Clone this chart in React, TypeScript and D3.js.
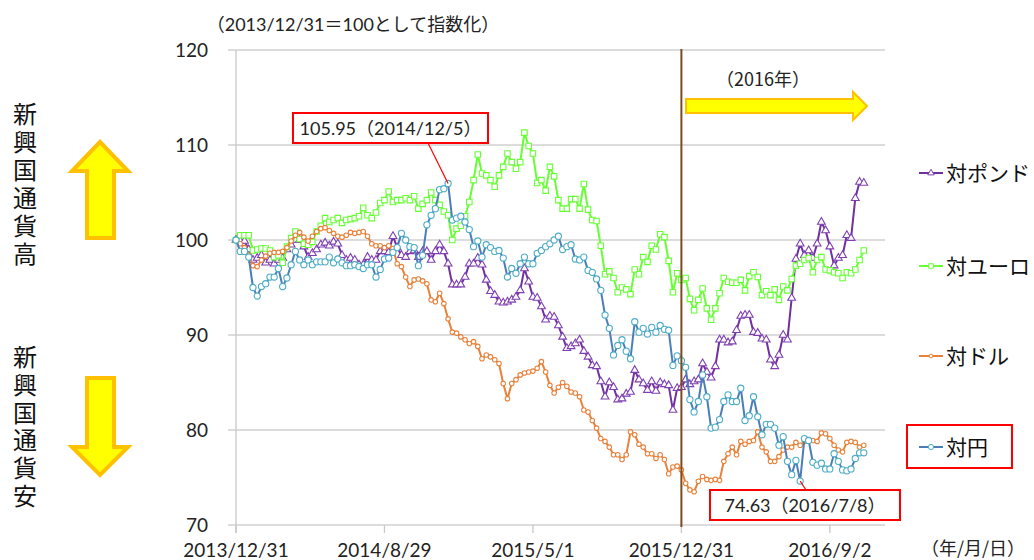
import React from "react";
import * as d3 from "d3";

// ---- data (weekly index, 2013/12/31 = 100) ----
const tickLabels = ["2013/12/31", "2014/8/29", "2015/5/1", "2015/12/31", "2016/9/2"];
const tickIndex = [0, 35, 70, 105, 140];
const yTicks = [70, 80, 90, 100, 110, 120];
const seriesNames = ["対ポンド", "対ユーロ", "対ドル", "対円"];

const poundValues = [
  100.0, 99.9, 99.9, 99.0, 97.9, 98.1, 98.4, 97.6, 97.9, 97.5, 97.9, 98.1, 99.0, 99.5, 100.0, 100.0, 99.3, 98.2, 98.6, 99.0,
  99.5, 99.7, 99.4, 99.8, 99.6, 98.4, 97.9, 98.1, 97.9, 97.4, 97.4, 98.2, 97.9, 97.9, 98.8, 98.8, 98.7, 100.4, 99.2,
  98.4, 98.2, 98.8, 98.9, 98.2, 98.8, 98.8, 97.9, 98.8, 99.5, 98.8, 97.5, 95.3, 95.3, 95.3, 96.1, 97.5, 97.5, 98.1, 97.4,
  95.8, 94.6, 94.2, 93.5, 93.4, 93.5, 93.7, 94.0, 94.7, 97.0, 95.6, 94.0, 93.9, 93.0, 91.6, 92.0, 91.9, 91.0,
  89.8, 88.6, 88.8, 89.1, 89.5, 88.3, 87.7, 86.8, 86.7, 85.1, 83.5, 85.0, 84.5, 83.2, 83.3, 83.8, 84.0, 86.3, 85.3, 84.9,
  84.2, 85.1, 84.1, 85.0, 84.8, 84.7, 82.1, 84.4, 84.5, 85.3, 84.8, 85.1, 85.3, 87.0, 86.1, 85.5, 86.7, 89.5,
  89.5, 89.2, 89.3, 90.5, 92.0, 92.1, 92.1, 90.3, 90.2, 89.6, 89.5, 87.4, 86.7, 87.9, 90.0, 89.5, 93.9, 98.0, 99.6, 98.4,
  98.9, 98.1, 99.6, 101.9, 101.0, 99.3, 97.3, 98.1, 98.4, 100.5, 100.2, 104.4, 106.1, 106.0,
];

const euroValues = [
  100.0, 100.5, 100.5, 100.5, 98.9, 99.0, 99.1, 99.1, 98.9, 98.2, 98.4, 97.6, 99.3, 100.2, 100.9, 100.1, 99.6, 99.5, 99.8, 100.9,
  101.5, 102.3, 101.9, 102.1, 102.3, 101.8, 102.1, 102.2, 102.3, 102.5, 103.4, 102.6, 102.3, 102.9, 103.9, 104.2, 105.1, 104.0, 104.2,
  104.2, 104.4, 104.2, 104.6, 103.3, 103.8, 104.2, 105.0, 104.2, 103.7, 103.0, 102.6, 100.0, 101.2, 101.5, 102.5, 104.0, 106.3, 109.0, 107.0,
  106.8, 106.3, 105.6, 106.8, 107.7, 109.1, 108.2, 107.5, 108.2, 111.3, 109.9, 109.1, 106.0, 106.3, 105.2, 107.7, 106.7, 104.2,
  103.3, 103.3, 104.3, 104.3, 103.3, 105.9, 103.2, 102.1, 102.0, 99.4, 96.4, 96.7, 96.0, 94.5, 95.0, 94.8, 94.3, 96.9, 96.4, 98.2,
  97.7, 99.4, 99.0, 100.6, 100.3, 97.8, 94.5, 96.5, 95.8, 96.0, 93.8, 92.6, 93.7, 94.9, 92.8, 91.6, 92.8, 94.4, 96.0, 95.6,
  95.5, 95.5, 95.8, 94.7, 96.2, 96.6, 96.1, 94.2, 94.6, 94.2, 94.8, 93.7, 95.1, 94.7, 95.9, 97.3, 97.5, 97.9, 98.1, 96.6,
  97.9, 98.2, 96.9, 96.8, 96.6, 96.5, 96.0, 96.6, 96.5, 96.9, 97.9, 98.9,
];

const dollarValues = [
  100.0, 99.6, 99.2, 98.4, 97.3, 97.2, 97.9, 98.3, 98.6, 98.7, 98.7, 98.8, 99.2, 99.9, 100.5, 100.8, 100.3, 99.9, 100.4, 100.9,
  101.2, 101.3, 101.0, 100.7, 100.4, 100.3, 100.5, 100.8, 100.7, 100.8, 100.9, 100.4, 99.6, 99.4, 99.4, 99.2, 99.4, 99.1, 97.5,
  97.2, 96.1, 95.1, 95.8, 95.9, 95.7, 95.4, 93.7, 93.5, 94.4, 93.3, 91.7, 90.3, 90.2, 89.8, 89.5, 89.1, 89.3, 88.8, 87.5,
  87.9, 87.7, 87.4, 87.0, 84.9, 83.3,
  84.9, 85.3, 85.8, 86.0, 86.1, 86.2, 86.5, 87.2, 86.1, 84.7, 83.9, 84.5, 85.0, 84.6, 84.0, 83.9, 83.5, 82.1, 81.9, 81.0,
  80.2, 79.1, 78.8, 78.2, 77.4, 77.4, 76.9, 77.4, 79.8, 79.5, 78.5, 78.2, 77.5, 77.5, 77.0, 77.4, 76.9, 75.4, 76.1, 76.2,
  75.8, 74.4, 73.7, 73.5, 74.6, 75.1, 74.8, 74.7, 74.8, 74.7,
  76.7, 77.5, 78.2, 77.4, 78.8, 78.5, 78.8, 78.9, 79.8, 78.2, 77.7, 76.7, 76.7, 77.2, 77.9, 78.2, 78.2, 78.7, 78.4, 78.8,
  78.9, 78.9, 78.8, 79.7, 79.6, 79.1, 78.4, 77.9, 77.7, 78.7, 78.8, 78.7, 78.2, 78.4,
];

const yenValues = [
  100.0, 98.8, 98.8, 98.2, 95.0, 94.1, 95.1, 95.4, 96.1, 96.1, 97.0, 95.1, 96.0, 97.4, 98.8, 97.9, 97.4, 97.9, 97.4, 97.7,
  97.7, 97.7, 98.2, 97.6, 98.0, 97.6, 97.3, 97.3, 97.4, 97.2, 97.0, 97.4, 97.4, 96.1, 96.9, 98.0, 98.1, 98.7, 99.2,
  100.7, 100.0, 99.3, 99.2, 97.3, 98.4, 101.6, 102.6, 103.3, 105.3, 105.4, 105.95, 102.1, 102.3, 102.5, 101.9, 101.1, 99.3, 99.9, 98.2,
  99.5, 99.2, 98.8, 98.9, 98.1, 96.1, 97.0, 96.5, 97.5, 98.2, 97.5, 97.5, 98.6, 98.9, 99.3, 99.6, 100.0, 100.4,
  99.0, 99.3, 99.5, 98.0, 97.9, 98.2, 96.8, 96.6, 95.9, 94.7, 92.1, 90.7, 87.9, 88.9, 89.5, 88.3, 87.5, 91.4, 90.3, 90.7,
  90.1, 90.8, 90.3, 91.0, 90.6, 90.5, 86.8, 87.8, 87.3, 86.6, 83.2, 81.9, 83.0, 85.8, 83.5, 80.2, 80.3, 81.1,
  83.0, 83.7, 83.0, 83.0, 84.4, 81.0, 81.5, 83.5, 81.4, 79.5, 80.6, 80.6, 80.2, 78.4, 79.3, 76.7, 75.3, 76.8, 74.63, 79.1,
  78.9, 76.6, 76.3, 76.5, 75.9, 75.9, 77.5, 76.7, 75.8, 75.7, 75.9, 77.0, 77.6, 77.6,
];

const annotationTexts = ["105.95（2014/12/5）", "74.63（2016/7/8）"];
const annotationIndex = [50, 133];
const sideLabels = ["新興国通貨高", "新興国通貨安"];

const FONT = "Lato, 'Noto Sans CJK JP', sans-serif";
const JP = "'Noto Sans CJK JP', sans-serif";

type Style = { color: string; marker: string; symbol: d3.SymbolType; size: number };
const styles: Style[] = [
  { color: "#7030A0", marker: "#7F3FB0", symbol: d3.symbolTriangle, size: 26 },
  { color: "#66FF33", marker: "#66FF33", symbol: d3.symbolSquare, size: 30 },
  { color: "#E8813A", marker: "#E8813A", symbol: d3.symbolCircle, size: 16 },
  { color: "#4A7EBB", marker: "#4BACC6", symbol: d3.symbolCircle, size: 30 },
];

export default function App() {
  const x = d3.scaleLinear().domain([0, 153]).range([236, 885]);
  const y = d3.scaleLinear().domain([70, 120]).range([525, 50]);
  const all = [poundValues, euroValues, dollarValues, yenValues];
  const line = d3
    .line<number>()
    .x((_, i) => x(i))
    .y((d) => y(d));

  const vlineX = x(tickIndex[3]);
  const legendY = [173, 266, 356, 447];

  const peakX = x(annotationIndex[0]);
  const peakY = y(yenValues[annotationIndex[0]]);
  const lowX = x(annotationIndex[1]);
  const lowY = y(yenValues[annotationIndex[1]]);

  return (
    <svg
      width={1034}
      height={560}
      style={{ position: "absolute", left: 0, top: 0, background: "#fff" }}
      fontFamily={FONT}
    >
      <rect x={0} y={0} width={1034} height={560} fill="#fff" />
      {/* title */}
      <text x={353} y={31} fontSize={18} textAnchor="middle" fill="#222">
        （2013/12/31＝100として指数化）
      </text>

      {/* gridlines */}
      {yTicks.map((t) => (
        <line key={t} x1={228} x2={885} y1={y(t)} y2={y(t)} stroke="#D0D0D0" strokeWidth={1.3} />
      ))}
      <line x1={x(0)} x2={x(0)} y1={y(120)} y2={y(70) + 8} stroke="#C8C8C8" strokeWidth={1.3} />
      {tickIndex.map((t) => (
        <line key={t} x1={x(t)} x2={x(t)} y1={y(70)} y2={y(70) + 8} stroke="#C8C8C8" strokeWidth={1.3} />
      ))}
      {yTicks.map((t) => (
        <text key={t} x={208} y={y(t) + 7} fontSize={19} textAnchor="end" fill="#222">
          {t}
        </text>
      ))}
      {tickLabels.map((l, i) => (
        <text key={l} x={x(tickIndex[i])} y={557} fontSize={19} textAnchor="middle" fill="#222">
          {l}
        </text>
      ))}
      <text x={921} y={555} fontSize={18} fill="#222" fontFamily={JP}>
        （年/月/日）
      </text>

      {/* series */}
      {all.map((vals, si) => (
        <g key={si}>
          <path d={line(vals) || ""} fill="none" stroke={styles[si].color} strokeWidth={2} strokeLinejoin="round" />
          {vals.map((v, i) => (
            <path
              key={i}
              d={d3.symbol().type(styles[si].symbol).size(styles[si].size)() || ""}
              transform={`translate(${x(i)},${y(v)})`}
              fill="#fff"
              stroke={styles[si].marker}
              strokeWidth={1.1}
            />
          ))}
        </g>
      ))}

      {/* 2016 divider */}
      <line x1={vlineX} x2={vlineX} y1={49} y2={527} stroke="#7B4A1E" strokeWidth={2} />
      <text x={763} y={86} fontSize={18} textAnchor="middle" fill="#222" fontFamily={JP}>
        （2016年）
      </text>
      <polygon
        points={`686,99 853,99 853,92 867,106 853,120 853,113 686,113`}
        fill="#FFFF00"
        stroke="#FFC000"
        strokeWidth={2}
      />

      {/* annotations */}
      <line x1={428} y1={143} x2={peakX} y2={peakY} stroke="#FF0000" strokeWidth={1.2} />
      <rect x={293} y={113} width={195} height={30} fill="#fff" stroke="#FF0000" strokeWidth={2} />
      <text x={390.5} y={135} fontSize={18} textAnchor="middle" fill="#222">
        {annotationTexts[0]}
      </text>
      <line x1={lowX} y1={lowY} x2={806} y2={490} stroke="#FF0000" strokeWidth={1.2} />
      <rect x={710} y={490} width={190} height={30} fill="#fff" stroke="#FF0000" strokeWidth={2} />
      <text x={805} y={512} fontSize={18} textAnchor="middle" fill="#222">
        {annotationTexts[1]}
      </text>

      {/* legend */}
      {seriesNames.map((n, i) => (
        <g key={n}>
          <line x1={919} x2={943} y1={legendY[i]} y2={legendY[i]} stroke={styles[i].color} strokeWidth={2} />
          <path
            d={d3.symbol().type(styles[i].symbol).size(styles[i].size * 0.7)() || ""}
            transform={`translate(931,${legendY[i]})`}
            fill="#fff"
            stroke={styles[i].marker}
            strokeWidth={1}
          />
          <text x={946} y={legendY[i] + 8} fontSize={21} fill="#111" fontFamily={JP}>
            {n}
          </text>
        </g>
      ))}
      <rect x={907} y={425} width={105} height={43} fill="none" stroke="#FF0000" strokeWidth={2} />

      {/* left vertical labels */}
      <text
        x={25}
        y={102}
        fontSize={24}
        fill="#111"
        fontFamily={JP}
        letterSpacing={4}
        style={{ writingMode: "vertical-rl" }}
      >
        {sideLabels[0]}
      </text>
      <text
        x={25}
        y={345}
        fontSize={24}
        fill="#111"
        fontFamily={JP}
        letterSpacing={3.7}
        style={{ writingMode: "vertical-rl" }}
      >
        {sideLabels[1]}
      </text>
      <polygon
        points="100,142 128,171 114,171 114,238 87,238 87,171 72,171"
        fill="#FFFF00"
        stroke="#FFC000"
        strokeWidth={4}
        strokeLinejoin="miter"
      />
      <polygon
        points="87,378 114,378 114,447 128,447 100,475 72,447 87,447"
        fill="#FFFF00"
        stroke="#FFC000"
        strokeWidth={4}
        strokeLinejoin="miter"
      />
    </svg>
  );
}
